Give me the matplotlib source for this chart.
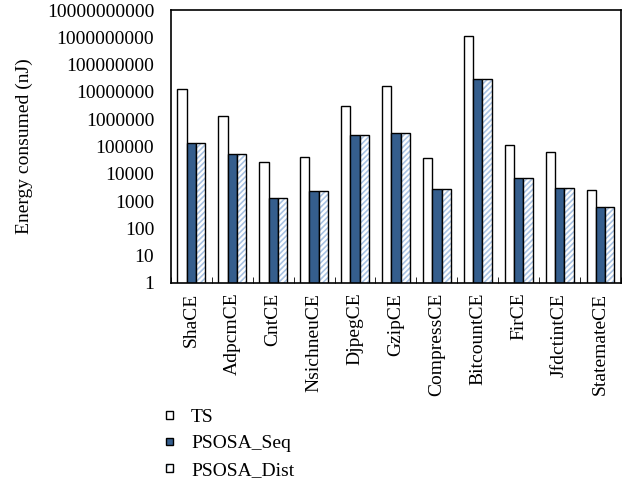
import matplotlib
matplotlib.use("Agg")
import matplotlib.pyplot as plt
import numpy as np
from matplotlib.patches import Patch, Rectangle
from matplotlib.legend_handler import HandlerTuple, HandlerPatch

plt.rcParams['font.family'] = ['Liberation Serif', 'DejaVu Serif']
plt.rcParams['hatch.linewidth'] = 1.2

benchmarks = ["ShaCE", "AdpcmCE", "CntCE", "NsichneuCE", "DjpegCE", "GzipCE",
              "CompressCE", "BitcountCE", "FirCE", "JfdctintCE", "StatemateCE"]
ts = [1.25e7, 1.3e6, 2.8e4, 4.0e4, 3.0e6, 1.7e7, 3.9e4, 1.17e9, 1.1e5, 6.3e4, 2.6e3]
psosa_seq = [1.36e5, 5.2e4, 1.25e3, 2.4e3, 2.6e5, 3.1e5, 2.8e3, 3.1e7, 6.9e3, 2.9e3, 6.2e2]
psosa_dist = [1.36e5, 5.2e4, 1.25e3, 2.4e3, 2.6e5, 3.1e5, 2.8e3, 3.1e7, 6.9e3, 2.9e3, 6.2e2]

seq_color = "#355E8D"
hatch_color = "#A9C3E3"

fig = plt.figure(figsize=(6.33, 4.82), dpi=100)
ax = fig.add_axes([0.270, 0.413, 0.711, 0.566])

x = np.arange(len(benchmarks))
w = 0.227
ax.bar(x - w, ts, w, color="white", edgecolor="black", linewidth=1)
ax.bar(x, psosa_seq, w, color=seq_color, edgecolor="black", linewidth=1)
# hatched fill first, then a black outline on top
ax.bar(x + w, psosa_dist, w, color="white", edgecolor=hatch_color, hatch="//////", linewidth=0)
ax.bar(x + w, psosa_dist, w, color="none", edgecolor="black", linewidth=1)

ax.set_yscale("log")
ax.set_ylim(1, 1e10)
yt = [10 ** k for k in range(11)]
ax.set_yticks(yt)
ax.set_yticklabels([str(v) for v in yt])
ax.yaxis.set_minor_locator(matplotlib.ticker.NullLocator())
ax.set_xlim(-0.5, len(benchmarks) - 0.5)
ax.set_xticks(x)
ax.set_xticklabels(benchmarks, rotation=90)
ax.set_xticks(np.arange(len(benchmarks) + 1) - 0.5, minor=True)
ax.tick_params(axis="x", which="major", length=0, pad=7, labelsize=14)
ax.tick_params(axis="x", which="minor", length=4, direction="in")
ax.tick_params(axis="y", length=0, pad=12, labelsize=14)
for s in ax.spines.values():
    s.set_linewidth(1.2)
ax.set_ylabel("Energy consumed (nJ)", fontsize=14, labelpad=10)


def small_box(legend, orig_handle, xdescent, ydescent, width, height, fontsize):
    s = 0.38 * fontsize
    return Rectangle((-xdescent + (width - s) / 2, -ydescent + (height - s) / 2), s, s)


h_ts = Patch(facecolor="white", edgecolor="black", linewidth=1)
h_seq = Patch(facecolor=seq_color, edgecolor="black", linewidth=1)
h_dist = (Patch(facecolor="white", edgecolor=hatch_color, hatch="///", linewidth=0),
          Patch(facecolor="none", edgecolor="black", linewidth=1))
fig.legend([h_ts, h_seq, h_dist], ["TS", "PSOSA_Seq", "PSOSA_Dist"],
           loc="upper left", bbox_to_anchor=(0.246, 0.173), frameon=False,
           fontsize=14, handlelength=0.42, handletextpad=0.9,
           labelspacing=0.45, borderpad=0,
           handler_map={tuple: HandlerTuple(ndivide=1, pad=0),
                        Patch: HandlerPatch(patch_func=small_box)})

fig.savefig("out.png", dpi=100)
